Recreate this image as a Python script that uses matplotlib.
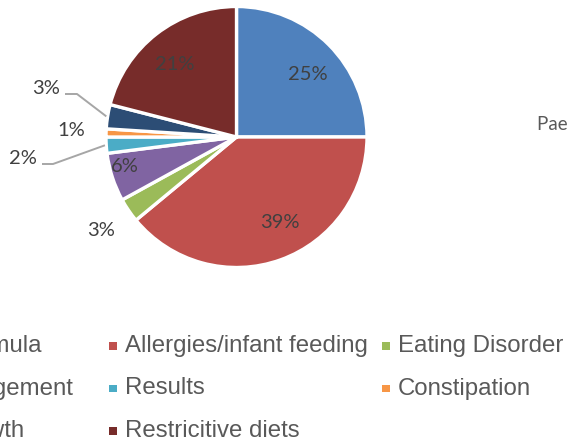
import numpy as np
import matplotlib
matplotlib.use("Agg")
import matplotlib.pyplot as plt
from matplotlib.patches import Rectangle

# ---- data ----
categories = ["Specialist formula", "Allergies/infant feeding", "Eating Disorder",
              "Weight management", "Results", "Constipation",
              "Faltering growth", "Restricitive diets"]
values = [25, 39, 3, 6, 2, 1, 3, 21]
pct_labels = ["25%", "39%", "3%", "6%", "2%", "1%", "3%", "21%"]
colors = ["#4F81BD", "#C0504D", "#9BBB59", "#8064A2", "#4BACC6", "#F79646",
          "#2C4D75", "#772C2A"]
title_text = "Paediatric dietetics"

# ---- layout (pixel coordinates, y up) ----
W, H = 567, 445
fig = plt.figure(figsize=(W / 100, H / 100), dpi=100)
ax = fig.add_axes([0, 0, 1, 1])
cx, cy, R = 236.5, H - 137, 130.5

wedges, _ = ax.pie(values, colors=colors, startangle=90, counterclock=False,
                   center=(cx, cy), radius=R,
                   wedgeprops=dict(edgecolor="white", linewidth=2.4))
ax.set_xlim(0, W)
ax.set_ylim(0, H)
ax.set_aspect("auto")
ax.axis("off")

# label offsets relative to the pie centre (pixels)
label_off = [(71, 62), (43, -85), (-135, -93), (-112, -29),
             (-214, -22), (-165, 7), (-190, 48), (-62, 73)]
pct_font = dict(family="Lato", fontsize=14.5, color="#404040")
for w, lab, (dx, dy) in zip(wedges, pct_labels, label_off):
    ax.text(cx + dx, cy + dy, lab, ha="center", va="center", **pct_font)

# leader lines for two small slices: (slice index, label-side start x, elbow x)
leaders = [(6, 65, 77), (4, 42, 53)]
for idx, x0, xe in leaders:
    w = wedges[idx]
    mid = np.deg2rad((w.theta1 + w.theta2) / 2)
    ex, ey = cx + 1.01 * R * np.cos(mid), cy + 1.01 * R * np.sin(mid)
    ly = cy + label_off[idx][1] - 5
    ax.plot([x0, xe, ex], [ly, ly, ey], color="#A6A6A6", lw=1.4,
            solid_capstyle="butt", zorder=1)

# ---- legend (Excel style, equal column widths) ----
col_x0, col_w = -164, 273
row_y0, row_h = H - 346, 42.5
for i, (cat, col) in enumerate(zip(categories, colors)):
    r, c = divmod(i, 3)
    mx = col_x0 + c * col_w
    my = row_y0 - r * row_h
    ax.add_patch(Rectangle((mx, my - 3.5), 7.5, 7.5, facecolor=col,
                           edgecolor="none", clip_on=False))
    ax.text(mx + 16, my, cat, ha="left", va="center", family="Liberation Sans",
            fontsize=17.3, color="#595959")

ax.text(537, H - 125, title_text, ha="left", va="center", family="Lato",
        fontsize=13.5, color="#595959")

fig.savefig("out.png", dpi=100)
